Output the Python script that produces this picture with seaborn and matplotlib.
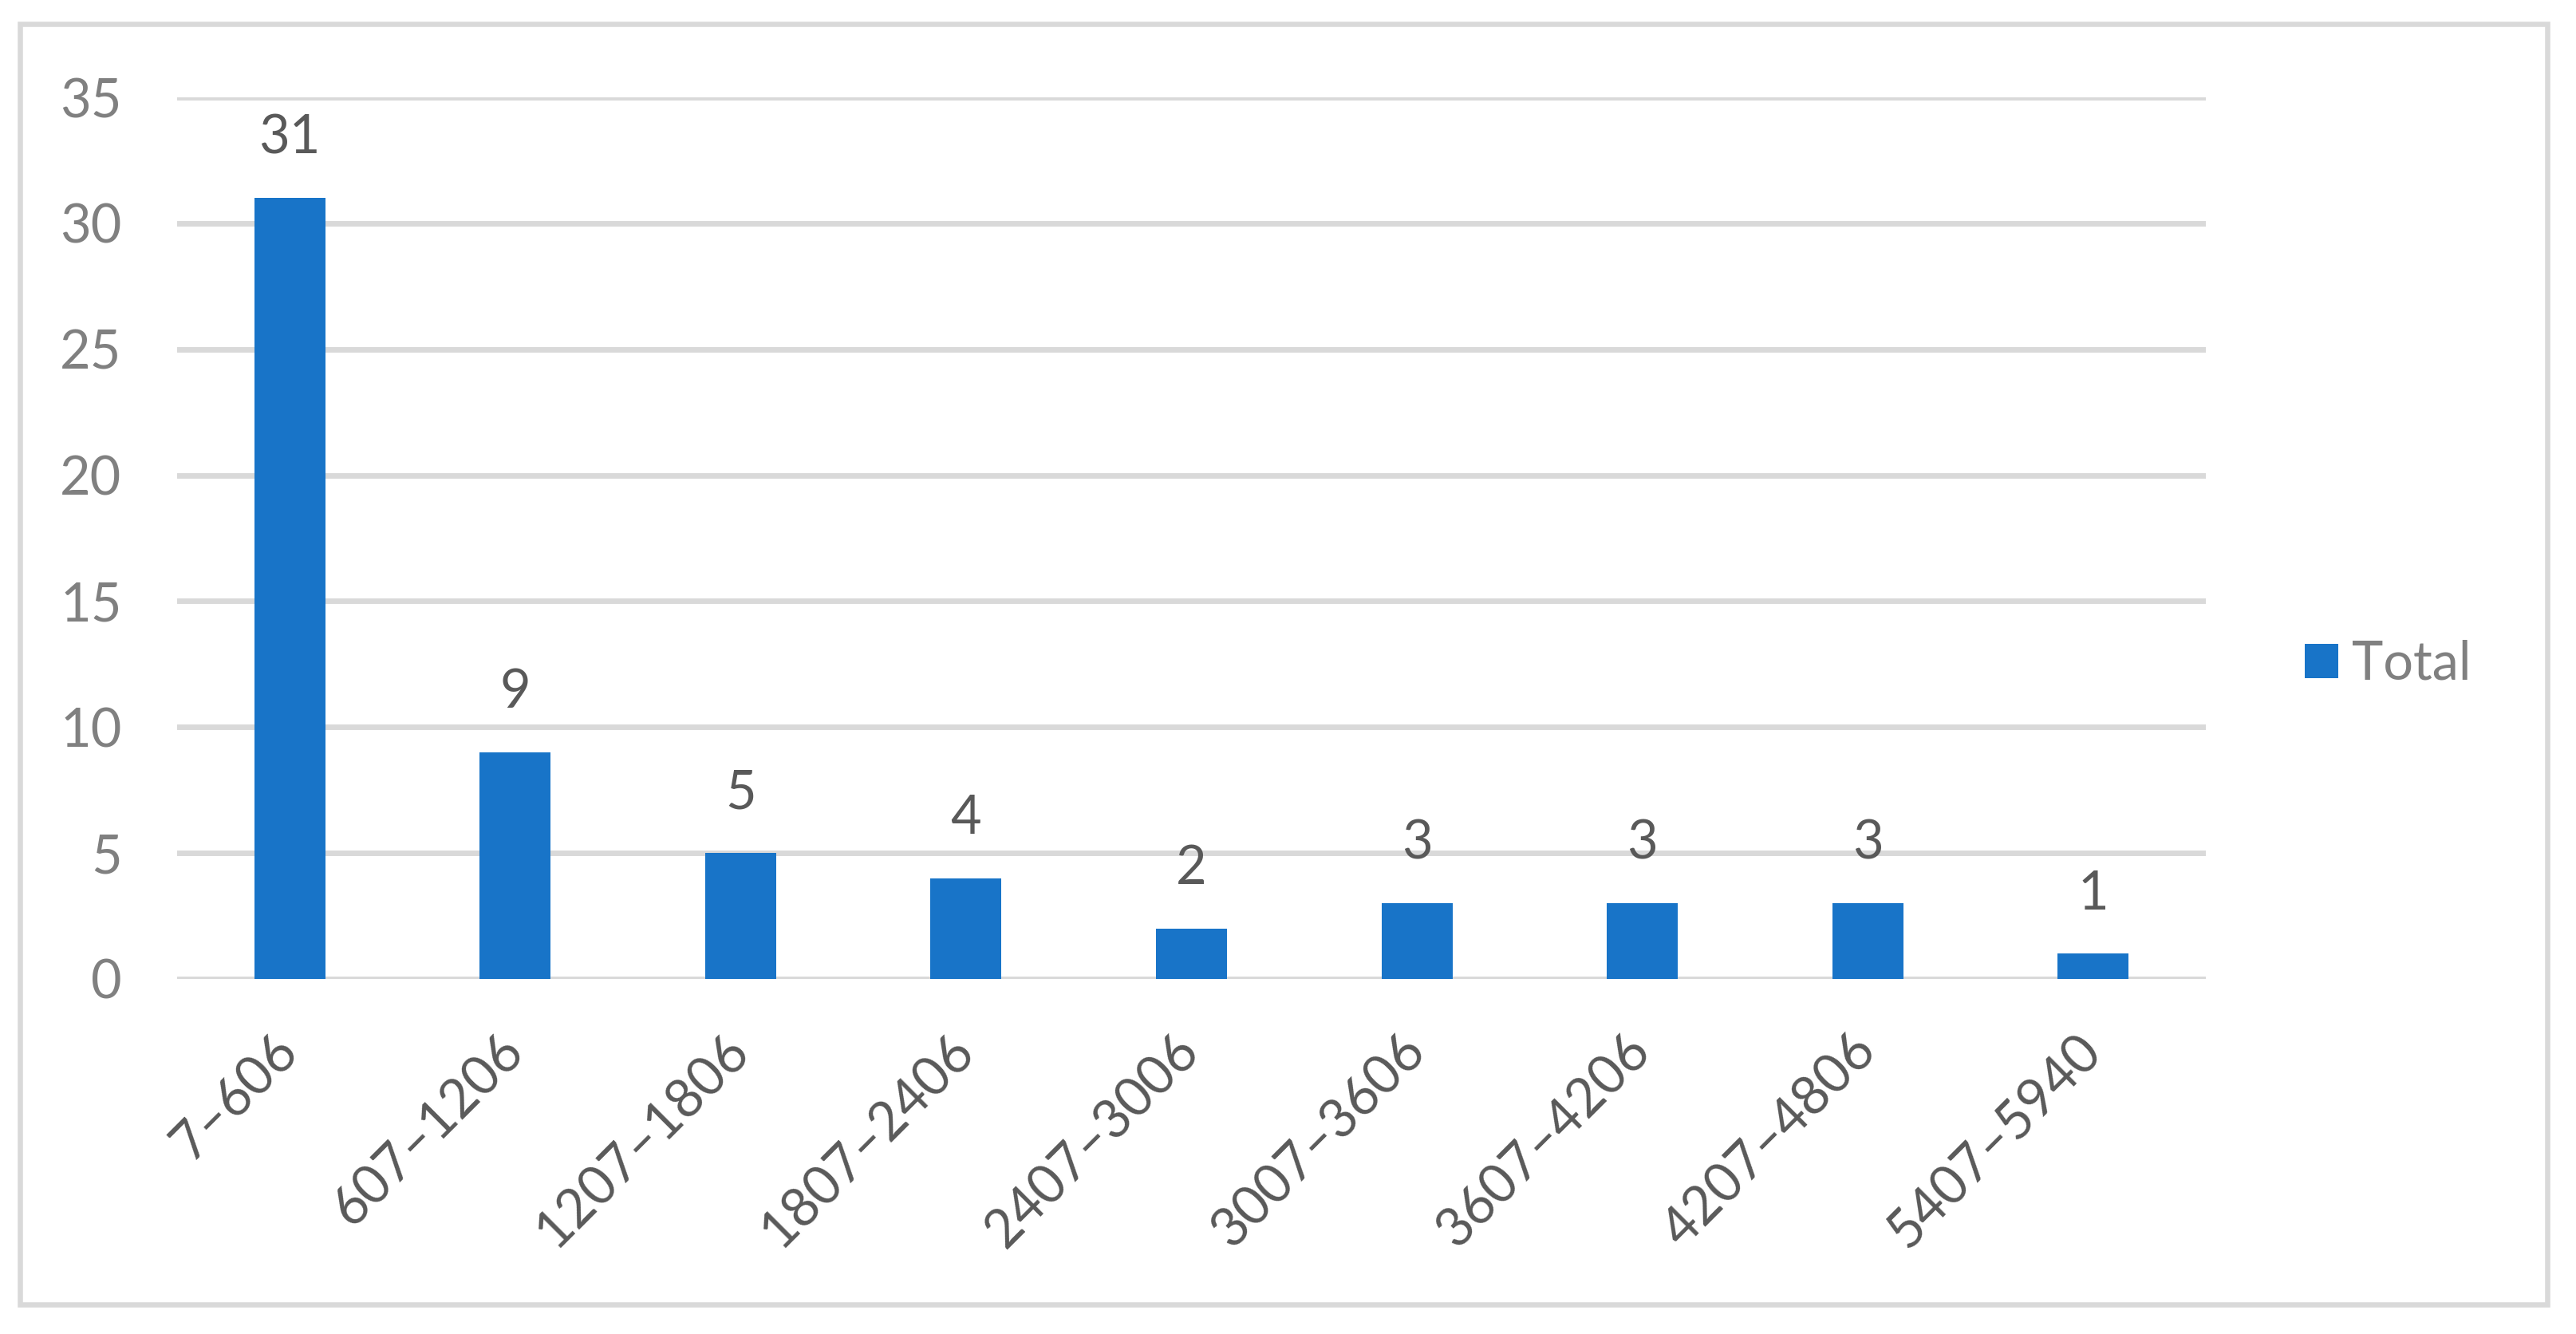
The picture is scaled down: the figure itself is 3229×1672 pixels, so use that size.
import matplotlib
matplotlib.use("Agg")
import matplotlib.pyplot as plt
import seaborn as sns
import pandas as pd
from matplotlib.patches import Rectangle

categories = ["7–606", "607–1206", "1207–1806", "1807–2406", "2407–3006",
              "3007–3606", "3607–4206", "4207–4806", "5407–5940"]
totals = [31, 9, 5, 4, 2, 3, 3, 3, 1]
yticks = [0, 5, 10, 15, 20, 25, 30, 35]
series_name = "Total"

BAR = "#1874C8"
GRID = "#D9D9D9"

sns.set_theme(style="white")
plt.rcParams["font.family"] = ["Lato", "DejaVu Sans"]

W, H, DPI = 3230, 1672, 100
fig = plt.figure(figsize=(W / DPI, H / DPI), dpi=DPI)
fig.patch.set_facecolor("white")

ax = fig.add_axes([222 / W, 1 - 1227 / H, (2765 - 222) / W, (1227 - 122) / H])

df = pd.DataFrame({"cat": categories, "val": totals})
sns.barplot(data=df, x="cat", y="val", color=BAR, saturation=1, width=0.315,
            ax=ax, label=series_name, zorder=3, linewidth=0)

ax.set_xlim(-0.5, len(categories) - 0.5)
ax.set_ylim(0, 35)
ax.set_yticks(yticks)
ax.set_yticklabels([str(t) for t in yticks])
for y in yticks:
    ax.axhline(y, color=GRID, lw=5, zorder=1)
for s in ax.spines.values():
    s.set_visible(False)
ax.grid(False)
ax.set_xlabel("")
ax.set_ylabel("")
ax.tick_params(axis="y", length=0, pad=50, labelsize=48, labelcolor="#808080")
ax.tick_params(axis="x", length=0, pad=58, labelsize=48, labelcolor="#595959")
for lab in ax.get_xticklabels():
    lab.set_rotation(45)
    lab.set_ha("right")
    lab.set_va("center")
    lab.set_rotation_mode("anchor")

for i, v in enumerate(totals):
    ax.annotate(str(v), xy=(i, v), xytext=(0, 40), textcoords="offset points",
                ha="center", va="baseline", fontsize=48, color="#595959")

if ax.get_legend() is not None:
    ax.get_legend().remove()
handles, labels = ax.get_legend_handles_labels()
leg = fig.legend(handles[:1], labels[:1], loc="center left",
                 bbox_to_anchor=(2889 / W, 1 - 833 / H), frameon=False,
                 fontsize=48, handlelength=0.63, handleheight=0.63,
                 handletextpad=0.25, borderpad=0, borderaxespad=0)
for t in leg.get_texts():
    t.set_color("#808080")

fig.patches.append(Rectangle((25.5 / W, 1 - 1635 / H), (3193 - 25.5) / W, (1635 - 30) / H,
                             transform=fig.transFigure, fill=False,
                             edgecolor=GRID, lw=4.7, zorder=10))

fig.savefig("out.png", dpi=DPI, facecolor="white")
